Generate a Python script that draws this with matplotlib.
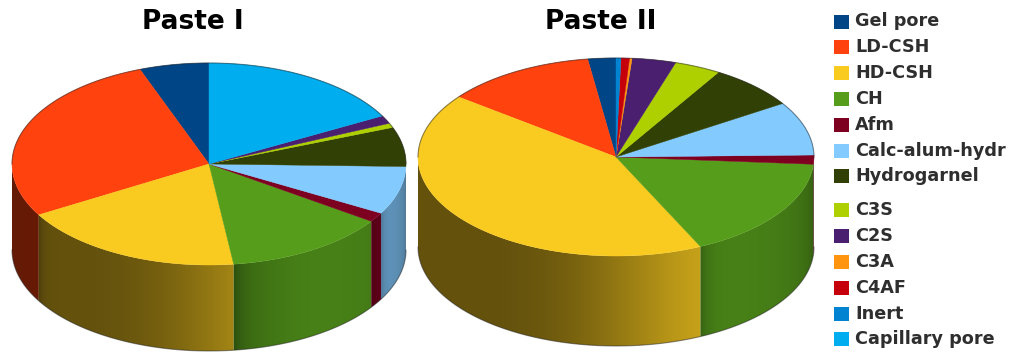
import numpy as np
import matplotlib
matplotlib.use('Agg')
import matplotlib.pyplot as plt
from matplotlib.patches import Polygon, Rectangle
from matplotlib.colors import to_rgb

# phase composition of the two pastes (volume %)
components = ['Gel pore', 'LD-CSH', 'HD-CSH', 'CH', 'Afm', 'Calc-alum-hydr',
              'Hydrogarnel', 'C3S', 'C2S', 'C3A', 'C4AF', 'Inert', 'Capillary pore']
colors = ['#004586', '#ff420e', '#f9cb20', '#579d1c', '#7e0021', '#83caff',
          '#314004', '#aecf00', '#4b1f6f', '#ff950e', '#c5000b', '#0084d1', '#00aeef']
paste_1 = [5.7, 27.7, 18.6, 13.4, 1.5, 7.7, 6.3, 0.7, 1.3, 0.0, 0.0, 0.0, 17.1]
paste_2 = [2.3, 12.4, 42.6, 16.9, 1.5, 8.8, 7.3, 3.8, 3.6, 0.2, 0.7, 0.4, 0.0]
titles = ['Paste I', 'Paste II']

FONT = ['DejaVu Sans']


def shade(theta, from_edge):
    # fake lighting on the cylinder wall: dark on the left, highlight front-right
    d = theta - 305.0
    g = np.where(d < 0, np.clip(np.cos(np.radians(d)), 0, None) ** 4,
                 np.clip(np.cos(np.radians(d)), 0, None) ** 1.4)
    f = 0.40 + 0.42 * g
    # darker seam where one slice starts
    return f * (1.0 - 0.22 * np.exp(-from_edge / 2.5))


def pie3d(ax, values, cx, cy, a, b, depth, start=90.0):
    vals = np.asarray(values, float)
    frac = vals / vals.sum()
    bounds = start + 360.0 * np.concatenate([[0.0], np.cumsum(frac)])

    # side wall, only the front half is visible
    for i, (t0, t1) in enumerate(zip(bounds[:-1], bounds[1:])):
        lo, hi = max(t0, 180.0), min(t1, 360.0)
        if hi - lo <= 0:
            continue
        th = np.radians(np.linspace(lo, hi, 100))
        xs = cx + a * np.cos(th)
        ys = cy - b * np.sin(th)
        poly = Polygon(np.column_stack([np.concatenate([xs, xs[::-1]]),
                                        np.concatenate([ys, ys[::-1] + depth])]),
                       closed=True, fc='none', ec='none')
        ax.add_patch(poly)
        # horizontal colour ramp, one column per half pixel
        x0, x1 = xs.min() - 1, xs.max() + 1
        n = max(4, int(x1 - x0) * 2)
        xc = np.linspace(x0, x1, n)
        tc = 360.0 - np.degrees(np.arccos(np.clip((xc - cx) / a, -1, 1)))
        f = shade(tc, np.clip(tc - t0, 0, None))
        base = np.array(to_rgb(colors[i]))
        img = np.clip(f[None, :, None] * base[None, None, :], 0, 1)
        im = ax.imshow(img, extent=(x0, x1, ys.max() + depth + 1, ys.min() - 1),
                       aspect='auto', interpolation='bilinear', zorder=1)
        im.set_clip_path(poly)

    # bottom outline
    tb = np.radians(np.linspace(180, 360, 200))
    ax.plot(cx + a * np.cos(tb), cy - b * np.sin(tb) + depth, color='#222222',
            lw=0.8, alpha=0.5, zorder=2)

    # top face
    for i, (t0, t1) in enumerate(zip(bounds[:-1], bounds[1:])):
        if t1 - t0 <= 0:
            continue
        th = np.radians(np.linspace(t0, t1, int((t1 - t0) * 2) + 2))
        xs = np.concatenate([[cx], cx + a * np.cos(th)])
        ys = np.concatenate([[cy], cy - b * np.sin(th)])
        ax.add_patch(Polygon(np.column_stack([xs, ys]), closed=True,
                             fc=colors[i], ec=colors[i], lw=0.3, zorder=3))

    # back rim outline
    tr = np.radians(np.linspace(0, 180, 200))
    ax.plot(cx + a * np.cos(tr), cy - b * np.sin(tr), color='#222222',
            lw=0.8, alpha=0.5, zorder=4)


fig = plt.figure(figsize=(10.12, 3.53), dpi=100)
ax = fig.add_axes([0, 0, 1, 1])

pie3d(ax, paste_1, 209, 164, 197, 101, 86)
pie3d(ax, paste_2, 616, 157, 198, 99, 90)

ax.set_xlim(0, 1012)
ax.set_ylim(353, 0)
ax.axis('off')

ax.text(193, 22, titles[0], ha='center', va='center', fontsize=19,
        fontweight='bold', family=FONT, color='black')
ax.text(601, 22, titles[1], ha='center', va='center', fontsize=19,
        fontweight='bold', family=FONT, color='black')

# legend
y = 21.5
for i, (name, col) in enumerate(zip(components, colors)):
    ax.add_patch(Rectangle((834, y - 7), 15, 14, fc=col, ec='none'))
    ax.text(855, y, name, ha='left', va='center', fontsize=12.7,
            fontweight='bold', family=FONT, color='#2e2e2e')
    y += 34 if i == 6 else 25.8

fig.savefig('out.png', dpi=100)
